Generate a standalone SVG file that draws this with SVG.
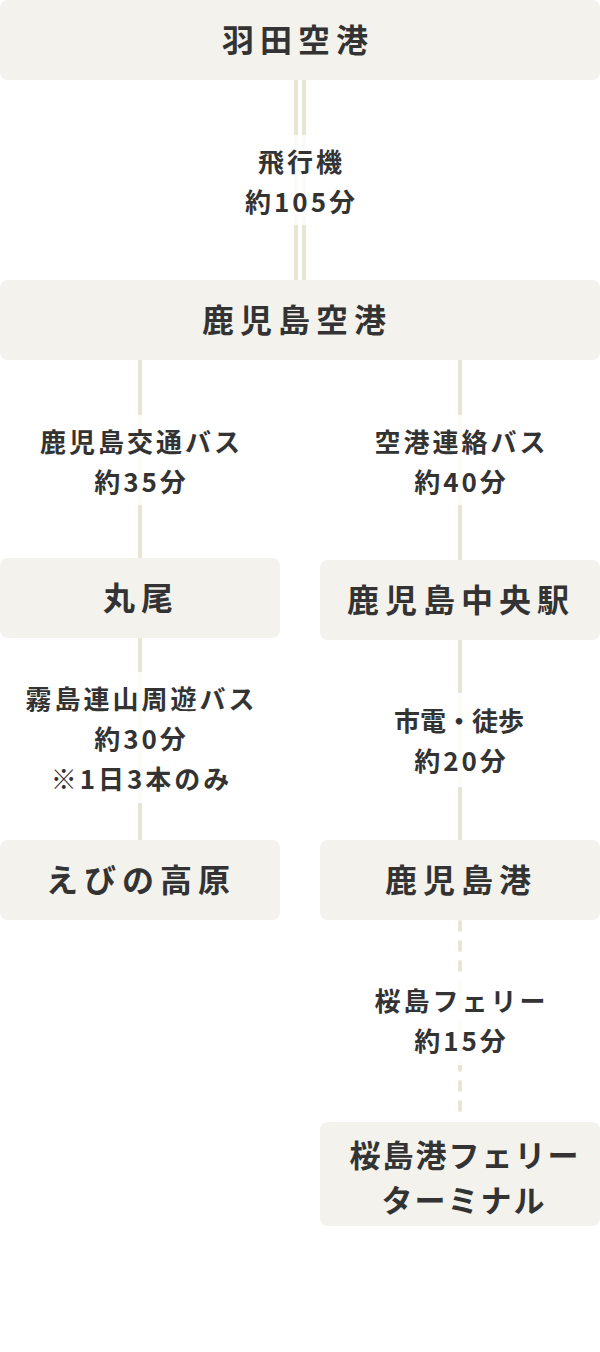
<svg xmlns="http://www.w3.org/2000/svg" width="600" height="1352" viewBox="0 0 600 1352">
<style>
.box{fill:#f3f2ed}
.ln{stroke:#e8e5d2;stroke-width:4;fill:none}
.dash{stroke:#e8e5d2;stroke-width:4;fill:none;stroke-dasharray:8 12;stroke-linecap:round}
.lbg{fill:#ffffff;fill-opacity:0.85}
.nt{font-family:"Noto Sans CJK JP","Noto Sans",sans-serif;font-weight:700;font-size:32px;letter-spacing:6px;fill:#333333;text-anchor:middle;dominant-baseline:central}
.nt2{font-family:"Noto Sans CJK JP","Noto Sans",sans-serif;font-weight:700;font-size:31px;letter-spacing:2px;fill:#333333;text-anchor:middle;dominant-baseline:central}
.lt{font-family:"Noto Sans CJK JP","Noto Sans",sans-serif;font-weight:700;font-size:26px;letter-spacing:3px;fill:#333333;text-anchor:middle;dominant-baseline:central}
.lt0{font-family:"Noto Sans CJK JP","Noto Sans",sans-serif;font-weight:700;font-size:26px;letter-spacing:0px;fill:#333333;text-anchor:middle;dominant-baseline:central}
</style>
<rect width="600" height="1352" fill="#ffffff"/>
<g id="connectors">
  <line class="ln" x1="296" y1="80" x2="296" y2="280"/>
  <line class="ln" x1="304" y1="80" x2="304" y2="280"/>
  <line class="ln" x1="140" y1="360" x2="140" y2="558"/>
  <line class="ln" x1="460" y1="360" x2="460" y2="560"/>
  <line class="ln" x1="140" y1="638" x2="140" y2="840"/>
  <line class="ln" x1="460" y1="640" x2="460" y2="840"/>
  <line class="dash" x1="460" y1="922" x2="460" y2="1120"/>
  <g id="label-plane">
    <rect class="lbg" x="230" y="135" width="140" height="90"/>
    <text class="lt" x="301.5" y="160">飛行機</text>
    <text class="lt" x="301.5" y="200">約105分</text>
  </g>
  <g id="label-kotsu-bus">
    <rect class="lbg" x="30" y="415" width="220" height="90"/>
    <text class="lt" x="141.5" y="440">鹿児島交通バス</text>
    <text class="lt" x="141.5" y="480">約35分</text>
  </g>
  <g id="label-airport-bus">
    <rect class="lbg" x="360" y="415" width="200" height="90"/>
    <text class="lt" x="461.5" y="440">空港連絡バス</text>
    <text class="lt" x="461.5" y="480">約40分</text>
  </g>
  <g id="label-kirishima-bus">
    <rect class="lbg" x="15" y="672" width="250" height="131"/>
    <text class="lt" x="141.5" y="697">霧島連山周遊バス</text>
    <text class="lt" x="141.5" y="737">約30分</text>
    <text class="lt" x="141.5" y="777">※1日3本のみ</text>
  </g>
  <g id="label-tram">
    <rect class="lbg" x="385" y="693" width="150" height="94"/>
    <text class="lt0" x="459" y="719">市電・徒歩</text>
    <text class="lt" x="461.5" y="759">約20分</text>
  </g>
  <g id="label-ferry">
    <rect class="lbg" x="370" y="975" width="180" height="90"/>
    <text class="lt" x="461.5" y="999">桜島フェリー</text>
    <text class="lt" x="461.5" y="1039">約15分</text>
  </g>
</g>
<g id="node-haneda">
  <rect class="box" x="0" y="0" width="600" height="80" rx="8"/>
  <text class="nt" x="298" y="38">羽田空港</text>
</g>
<g id="node-kagoshima-airport">
  <rect class="box" x="0" y="280" width="600" height="80" rx="8"/>
  <text class="nt" x="297" y="318">鹿児島空港</text>
</g>
<g id="node-maruo">
  <rect class="box" x="0" y="558" width="280" height="80" rx="8"/>
  <text class="nt" x="141" y="596">丸尾</text>
</g>
<g id="node-kagoshima-chuo">
  <rect class="box" x="320" y="560" width="280" height="80" rx="8"/>
  <text class="nt" x="461" y="598">鹿児島中央駅</text>
</g>
<g id="node-ebino">
  <rect class="box" x="0" y="840" width="280" height="80" rx="8"/>
  <text class="nt" x="141" y="878">えびの高原</text>
</g>
<g id="node-kagoshima-port">
  <rect class="box" x="320" y="840" width="280" height="80" rx="8"/>
  <text class="nt" x="461" y="878">鹿児島港</text>
</g>
<g id="node-sakurajima-terminal">
  <rect class="box" x="320" y="1122" width="280" height="104" rx="8"/>
  <text class="nt2"><tspan x="465" y="1153">桜島港フェリー</tspan><tspan x="464" y="1198">ターミナル</tspan></text>
</g>
</svg>
